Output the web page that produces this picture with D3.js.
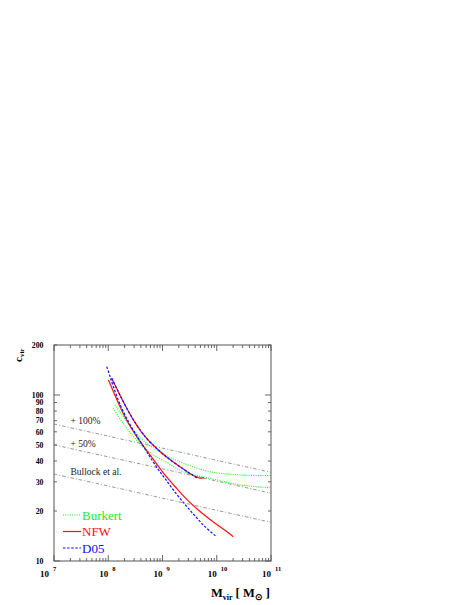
<!DOCTYPE html>
<html><head><meta charset="utf-8">
<script src="https://cdn.jsdelivr.net/npm/d3@7"></script>
<style>html,body{margin:0;padding:0;background:#fff;} svg{display:block;}</style>
</head><body>
<svg id="chart" width="468" height="605"></svg>
<script>
// ---------- data ----------
const refMass = [1e7, 1e8, 1e9, 1e10, 1e11];
const bullockC = [33.4, 28.3, 23.9, 20.2, 17.1];
const plus50C = [50.1, 42.4, 35.9, 30.3, 25.6];
const plus100C = [66.8, 56.5, 47.8, 40.4, 34.2];

// NFW, steep branch
const nfwAMass = [1.01e8, 1.24e8, 1.65e8, 2.34e8, 3.34e8, 4.76e8, 6.68e8, 1.11e9, 1.70e9, 2.60e9, 4.57e9, 8.07e9, 1.42e10, 2.02e10];
const nfwAC    = [123.1, 105.0, 85.0, 67.8, 56.1, 47.7, 41.2, 33.0, 28.1, 24.1, 20.3, 17.5, 15.3, 14.0];
// NFW, flatter branch
const nfwBMass = [1.16e8, 1.53e8, 2.19e8, 3.34e8, 5.11e8, 7.82e8, 1.19e9, 2.42e9, 3.70e9, 4.91e9, 5.82e9];
const nfwBC    = [126.1, 104.7, 83.2, 65.9, 54.7, 47.6, 42.3, 35.8, 32.7, 31.6, 31.8];
// D05, steep branch
const d05AMass = [9.4e7, 1.08e8, 1.24e8, 1.65e8, 2.34e8, 3.34e8, 4.76e8, 5.89e8, 8.26e8, 1.11e9, 1.70e9, 2.60e9, 3.97e9, 6.07e9, 1.0e10];
const d05AC    = [148.1, 128.9, 112.5, 87.7, 69.2, 57.0, 47.3, 42.3, 35.8, 31.4, 26.0, 21.9, 18.7, 16.1, 13.95];
// D05, flatter branch
const d05BMass = [1.16e8, 1.53e8, 2.19e8, 3.34e8, 5.11e8, 7.82e8, 1.19e9, 2.42e9, 3.70e9, 4.33e9];
const d05BC    = [126.1, 104.7, 83.2, 65.9, 54.7, 47.6, 42.3, 35.8, 32.7, 31.7];
// Burkert, upper branch
const burAMass = [1.33e8, 2.04e8, 3.11e8, 4.76e8, 7.27e8, 1.11e9, 2.42e9, 7.51e9, 2.69e10, 1e11];
const burAC    = [87.1, 71.7, 59.8, 52.1, 47.3, 43.5, 38.8, 34.5, 33.0, 32.7];
// Burkert, lower branch
const burBMass = [1.24e8, 1.87e8, 2.86e8, 4.37e8, 7.27e8, 1.26e9, 2.42e9, 1.0e10, 2.69e10, 1e11];
const burBC    = [83.2, 67.8, 56.6, 48.6, 42.9, 38.9, 34.5, 30.8, 28.7, 27.6];

const yTickValues = [10, 20, 30, 40, 50, 60, 70, 80, 90, 100, 200];
const yMajorTicks = [10, 100];
const xDecades = [1e7, 1e8, 1e9, 1e10, 1e11];
const xExponents = ["7", "8", "9", "10", "11"];
const bandLabels = ["+ 100%", "+ 50%", "Bullock et al."];
const legendLabels = ["Burkert", "NFW", "D05"];

// ---------- drawing ----------
const svg = d3.select("#chart");
const L = 54, R = 271, T = 345, B = 561;
const x = d3.scaleLog().domain([1e7, 1e11]).range([L, R]);
const y = d3.scaleLog().domain([10, 200]).range([B, T]);
const serif = "'Liberation Serif','Times New Roman',serif";

const clipId = "plotclip";
svg.append("defs").append("clipPath").attr("id", clipId)
  .append("rect").attr("x", L).attr("y", T).attr("width", R - L).attr("height", B - T);

const line = d3.line().x(d => x(d[0])).y(d => y(d[1])).curve(d3.curveCatmullRom.alpha(0.5));
const zipP = (m, c) => m.map((v, i) => [v, c[i]]);

const plot = svg.append("g").attr("clip-path", `url(#${clipId})`);

// reference lines (Bullock et al. and scaled)
const gray = "#8a8a8a";
[plus100C, plus50C, bullockC].forEach(arr => {
  plot.append("path").attr("d", line(zipP(refMass, arr)))
    .attr("fill", "none").attr("stroke", gray).attr("stroke-width", 0.9)
    .attr("stroke-dasharray", "3.5,2,1,2");
});

const green = "#22ee22", red = "#ff1010", blue = "#1010ff";
const styles = {
  bur: {stroke: green, dash: "1,1.3", w: 1.1},
  nfw: {stroke: red, dash: null, w: 1.2},
  d05: {stroke: blue, dash: "2.5,1.6", w: 1.2}
};
function drawCurve(m, c, s) {
  const p = plot.append("path").attr("d", line(zipP(m, c)))
    .attr("fill", "none").attr("stroke", s.stroke).attr("stroke-width", s.w);
  if (s.dash) p.attr("stroke-dasharray", s.dash);
}
drawCurve(burAMass, burAC, styles.bur);
drawCurve(burBMass, burBC, styles.bur);
drawCurve(nfwAMass, nfwAC, styles.nfw);
drawCurve(nfwBMass, nfwBC, styles.nfw);
drawCurve(d05AMass, d05AC, styles.d05);
drawCurve(d05BMass, d05BC, styles.d05);

// band labels
bandLabels.forEach((t, i) => {
  svg.append("text").attr("x", 70.5)
    .attr("y", [424, 446.5, 475][i])
    .attr("font-family", serif).attr("font-size", 9.5).attr("fill", "#222")
    .text(t);
});

// frame
const frameColor = "#555";
svg.append("rect").attr("x", L).attr("y", T).attr("width", R - L).attr("height", B - T)
  .attr("fill", "none").attr("stroke", frameColor).attr("stroke-width", 1);

// x ticks (bottom and top, inward)
const xMinor = [];
for (let k = 7; k < 11; k++) for (let j = 2; j <= 9; j++) xMinor.push(j * Math.pow(10, k));
const tickG = svg.append("g").attr("stroke", frameColor).attr("stroke-width", 0.9);
xMinor.forEach(v => {
  const px = x(v);
  tickG.append("line").attr("x1", px).attr("x2", px).attr("y1", B).attr("y2", B - 3);
  tickG.append("line").attr("x1", px).attr("x2", px).attr("y1", T).attr("y2", T + 3);
});
xDecades.forEach(v => {
  const px = x(v);
  tickG.append("line").attr("x1", px).attr("x2", px).attr("y1", B).attr("y2", B - 6);
  tickG.append("line").attr("x1", px).attr("x2", px).attr("y1", T).attr("y2", T + 6);
});
// y ticks (left and right, inward)
yTickValues.forEach(v => {
  const py = y(v);
  const len = yMajorTicks.includes(v) ? 6 : 3;
  tickG.append("line").attr("x1", L).attr("x2", L + len).attr("y1", py).attr("y2", py);
  tickG.append("line").attr("x1", R).attr("x2", R - len).attr("y1", py).attr("y2", py);
});

// y labels
yTickValues.forEach(v => {
  svg.append("text").attr("x", 43.5).attr("y", y(v) + 2.8)
    .attr("text-anchor", "end").attr("font-family", serif).attr("font-weight", "bold")
    .attr("font-size", 7.8).attr("fill", "#000").text(v);
});

// x labels: 10^k
xDecades.forEach((v, i) => {
  const shift = i === 0 ? -5 : 0;
  const px = x(v) + shift;
  svg.append("text").attr("x", px).attr("y", 577)
    .attr("text-anchor", "end").attr("font-family", serif).attr("font-weight", "bold")
    .attr("font-size", 9).attr("fill", "#000").text("10");
  svg.append("text").attr("x", px + 4).attr("y", 570.5)
    .attr("text-anchor", "start").attr("font-family", serif).attr("font-weight", "bold")
    .attr("font-size", 6.5).attr("fill", "#000").text(xExponents[i]);
});

// axis titles
const xt = svg.append("text").attr("x", 270).attr("y", 597)
  .attr("text-anchor", "end").attr("font-family", serif).attr("font-weight", "bold")
  .attr("font-size", 12.5).attr("fill", "#000");
xt.append("tspan").text("M");
xt.append("tspan").attr("font-size", 8).attr("dy", 3).text("vir");
xt.append("tspan").attr("dy", -3).text(" [  M");
xt.append("tspan").attr("font-size", 9).attr("dy", 3).text("\u2299");
xt.append("tspan").attr("dy", -3).text(" ]");

const yt = svg.append("text").attr("transform", "translate(21.5,362) rotate(-90)")
  .attr("font-family", serif).attr("font-weight", "bold").attr("font-size", 11).attr("fill", "#000");
yt.append("tspan").text("c");
yt.append("tspan").attr("font-size", 7).attr("dy", 2.5).text("vir");

// legend
const legStyles = [styles.bur, styles.nfw, styles.d05];
const legY = [515, 531.5, 548];
legendLabels.forEach((t, i) => {
  const s = legStyles[i];
  const ln = svg.append("line").attr("x1", 63).attr("x2", 81).attr("y1", legY[i]).attr("y2", legY[i])
    .attr("stroke", s.stroke).attr("stroke-width", s.w);
  if (s.dash) ln.attr("stroke-dasharray", s.dash);
  svg.append("text").attr("x", 82).attr("y", legY[i] + 4.5)
    .attr("font-family", serif).attr("font-size", 13).attr("fill", s.stroke).text(t);
});
</script>
</body></html>
